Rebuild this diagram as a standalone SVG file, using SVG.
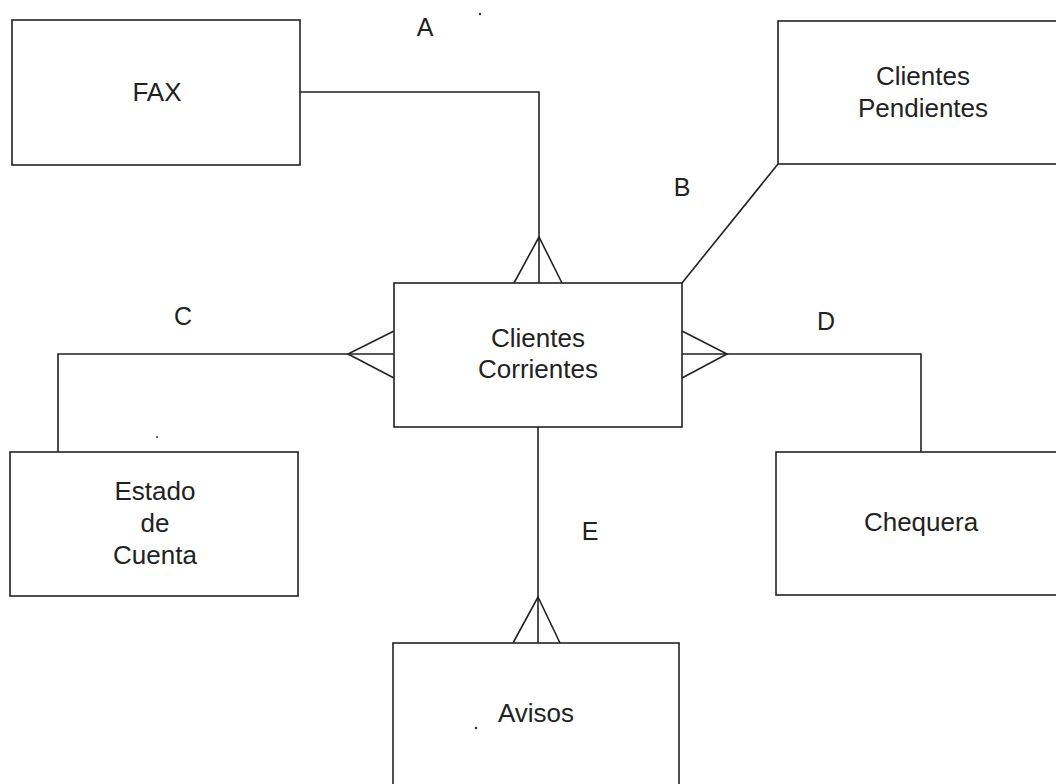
<svg xmlns="http://www.w3.org/2000/svg" width="1056" height="784" viewBox="0 0 1056 784">
  <style>
    .box { fill: #ffffff; stroke: #222222; stroke-width: 1.6; }
    .edge { fill: none; stroke: #222222; stroke-width: 1.6; stroke-linejoin: miter; }
    .label { font-family: "Liberation Sans", Arial, sans-serif; font-size: 26px; fill: #222222; text-anchor: middle; }
    .tag { font-family: "Liberation Sans", Arial, sans-serif; font-size: 25px; fill: #222222; text-anchor: middle; }
    .speck { fill: #333333; }
  </style>
  <rect width="1056" height="784" fill="#ffffff"/>

  <!-- relationship lines and crow's feet -->
  <g id="connectors">
    <!-- A: FAX to Clientes Corrientes -->
    <path class="edge" d="M300,92 H539 V283"/>
    <path class="edge" d="M514,283 L539,237 L562,283"/>
    <!-- B: Clientes Pendientes to Clientes Corrientes -->
    <path class="edge" d="M682,283 L778,164"/>
    <!-- C: Estado de Cuenta to Clientes Corrientes -->
    <path class="edge" d="M58,452 V354 H394"/>
    <path class="edge" d="M394,331 L348,354 L394,378"/>
    <!-- D: Clientes Corrientes to Chequera -->
    <path class="edge" d="M682,354 H921 V452"/>
    <path class="edge" d="M682,331 L727,354 L682,378"/>
    <!-- E: Clientes Corrientes to Avisos -->
    <path class="edge" d="M538,427 V643"/>
    <path class="edge" d="M513,643 L538,597 L560,643"/>
  </g>

  <!-- relationship tags -->
  <g id="tags">
    <text class="tag" x="425" y="36">A</text>
    <text class="tag" x="682" y="196">B</text>
    <text class="tag" x="183" y="325">C</text>
    <text class="tag" x="826" y="330">D</text>
    <text class="tag" x="590" y="540">E</text>
  </g>

  <g id="fax">
    <rect class="box" x="12" y="20" width="288" height="145"/>
    <text class="label" x="157" y="101">FAX</text>
  </g>

  <g id="clientes-pendientes">
    <rect class="box" x="778" y="21" width="290" height="143"/>
    <text class="label" x="923" y="85">Clientes</text>
    <text class="label" x="923" y="117">Pendientes</text>
  </g>

  <g id="clientes-corrientes">
    <rect class="box" x="394" y="283" width="288" height="144"/>
    <text class="label" x="538" y="347">Clientes</text>
    <text class="label" x="538" y="378">Corrientes</text>
  </g>

  <g id="estado-de-cuenta">
    <rect class="box" x="10" y="452" width="288" height="144"/>
    <text class="label" x="155" y="500">Estado</text>
    <text class="label" x="155" y="532">de</text>
    <text class="label" x="155" y="564">Cuenta</text>
  </g>

  <g id="chequera">
    <rect class="box" x="776" y="452" width="292" height="143"/>
    <text class="label" x="921" y="531">Chequera</text>
  </g>

  <g id="avisos">
    <rect class="box" x="393" y="643" width="286" height="150"/>
    <text class="label" x="536" y="722">Avisos</text>
  </g>

  <!-- stray specks -->
  <circle class="speck" cx="480" cy="14" r="1.2"/>
  <circle class="speck" cx="157" cy="437" r="1"/>
  <circle class="speck" cx="476" cy="728" r="1.3"/>
</svg>
